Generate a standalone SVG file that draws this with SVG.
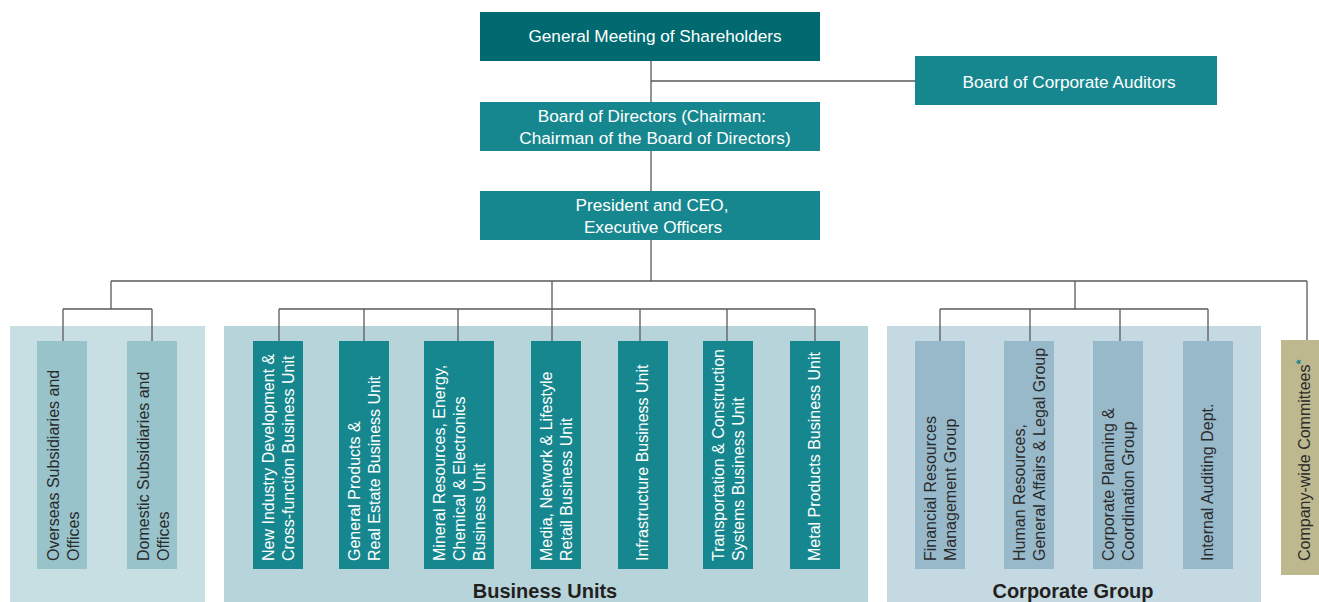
<svg xmlns="http://www.w3.org/2000/svg" width="1319" height="602" viewBox="0 0 1319 602">
<style>
.top{font-family:"Liberation Sans",Arial,sans-serif;font-size:17.2px;fill:#fff;text-anchor:middle}
.v{font-family:"Liberation Sans",Arial,sans-serif;font-size:16px}
.w{fill:#fff}
.d{fill:#2a2a2a}
.grp{font-family:"Liberation Sans",Arial,sans-serif;font-size:20px;font-weight:bold;fill:#231f20;text-anchor:middle}
.ln{stroke:#5a5a5a;stroke-width:1.3;fill:none}
.teal{fill:#17878f}
.lb{fill:#98c3cb}
.cb{fill:#98b9ca}
</style>
<rect x="10" y="326" width="195" height="276" fill="#c7dfe3"/>
<rect x="224" y="326" width="644" height="276" fill="#b7d4da"/>
<rect x="887" y="326" width="374" height="276" fill="#c5d9e2"/>
<text class="grp" x="545" y="598">Business Units</text>
<text class="grp" x="1073" y="598">Corporate Group</text>
<g id="connectors">
<path class="ln" d="M651 61V281M651 81H915M111 281H1307M111 281V309M552 281V309M1075 281V309M1307 281V340"/>
<path class="ln" d="M63 309H152M63 309V341M152 309V341"/>
<path class="ln" d="M279 309H815M279 309V341M364 309V341M458 309V341M552 309V341M640 309V341M727 309V341M815 309V341"/>
<path class="ln" d="M940 309H1208M940 309V341M1030 309V341M1120 309V341M1208 309V341"/>
</g>
<g id="gm"><rect x="480" y="12" width="340" height="49" fill="#006a70"/><text class="top" x="655" y="42">General Meeting of Shareholders</text></g>
<g id="bca"><rect x="915" y="56" width="302" height="49" class="teal"/><text class="top" x="1069" y="88">Board of Corporate Auditors</text></g>
<g id="bod"><rect x="480" y="102" width="340" height="49" class="teal"/><text class="top" x="652" y="122">Board of Directors (Chairman:</text><text class="top" x="655" y="144">Chairman of the Board of Directors)</text></g>
<g id="ceo"><rect x="480" y="191" width="340" height="49" class="teal"/><text class="top" x="652" y="211">President and CEO,</text><text class="top" x="653" y="233">Executive Officers</text></g>

<g id="overseas"><rect x="37" y="341" width="50" height="228" class="lb"/><text class="v d" transform="translate(0,561) rotate(-90)"><tspan x="0" y="58.5">Overseas Subsidiaries and</tspan><tspan x="0" y="78.5">Offices</tspan></text></g>
<g id="domestic"><rect x="127" y="341" width="50" height="228" class="lb"/><text class="v d" transform="translate(0,561) rotate(-90)"><tspan x="0" y="148.5">Domestic Subsidiaries and</tspan><tspan x="0" y="168.5">Offices</tspan></text></g>

<g id="bu1"><rect x="253" y="341" width="50" height="228" class="teal"/><text class="v w" transform="translate(0,561) rotate(-90)"><tspan x="0" y="274">New Industry Development &amp;</tspan><tspan x="0" y="294">Cross-function Business Unit</tspan></text></g>
<g id="bu2"><rect x="339" y="341" width="50" height="228" class="teal"/><text class="v w" transform="translate(0,561) rotate(-90)"><tspan x="0" y="360">General Products &amp;</tspan><tspan x="0" y="380">Real Estate Business Unit</tspan></text></g>
<g id="bu3"><rect x="424" y="341" width="70" height="228" class="teal"/><text class="v w" transform="translate(0,561) rotate(-90)"><tspan x="0" y="445">Mineral Resources, Energy,</tspan><tspan x="0" y="465">Chemical &amp; Electronics</tspan><tspan x="0" y="485">Business Unit</tspan></text></g>
<g id="bu4"><rect x="531" y="341" width="50" height="228" class="teal"/><text class="v w" transform="translate(0,561) rotate(-90)"><tspan x="0" y="552">Media, Network &amp; Lifestyle</tspan><tspan x="0" y="572">Retail Business Unit</tspan></text></g>
<g id="bu5"><rect x="618" y="341" width="50" height="228" class="teal"/><text class="v w" transform="translate(0,561) rotate(-90)"><tspan x="0" y="648">Infrastructure Business Unit</tspan></text></g>
<g id="bu6"><rect x="703" y="341" width="50" height="228" class="teal"/><text class="v w" transform="translate(0,561) rotate(-90)"><tspan x="0" y="724">Transportation &amp; Construction</tspan><tspan x="0" y="744">Systems Business Unit</tspan></text></g>
<g id="bu7"><rect x="790" y="341" width="50" height="228" class="teal"/><text class="v w" transform="translate(0,561) rotate(-90)"><tspan x="0" y="820">Metal Products Business Unit</tspan></text></g>

<g id="cg1"><rect x="915" y="341" width="50" height="228" class="cb"/><text class="v d" transform="translate(0,561) rotate(-90)"><tspan x="0" y="936">Financial Resources</tspan><tspan x="0" y="956">Management Group</tspan></text></g>
<g id="cg2"><rect x="1004" y="341" width="50" height="228" class="cb"/><text class="v d" transform="translate(0,561) rotate(-90)"><tspan x="0" y="1025">Human Resources,</tspan><tspan x="0" y="1045">General Affairs &amp; Legal Group</tspan></text></g>
<g id="cg3"><rect x="1093" y="341" width="50" height="228" class="cb"/><text class="v d" transform="translate(0,561) rotate(-90)"><tspan x="0" y="1114">Corporate Planning &amp;</tspan><tspan x="0" y="1134">Coordination Group</tspan></text></g>
<g id="cg4"><rect x="1183" y="341" width="50" height="228" class="cb"/><text class="v d" transform="translate(0,561) rotate(-90)"><tspan x="0" y="1213">Internal Auditing Dept.</tspan></text></g>

<g id="committees"><rect x="1281" y="340" width="38" height="235" fill="#beb88f"/><text class="v d" transform="translate(0,561) rotate(-90)"><tspan x="0" y="1310">Company-wide Committees</tspan><tspan dy="-5" font-size="13" font-weight="bold" fill="#17878f">*</tspan></text></g>
</svg>
